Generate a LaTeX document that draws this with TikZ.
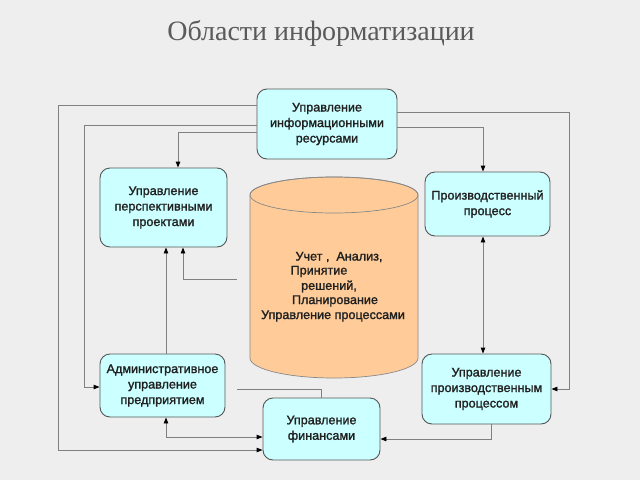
\documentclass[tikz,border=0pt]{standalone}
\usepackage{fontspec}
\setmainfont{Liberation Sans}
\newfontfamily\boxfont{Liberation Sans}[FakeBold=1.5]
\newfontfamily\titlefont{Liberation Serif}
\usetikzlibrary{arrows.meta,calc}
\definecolor{bg}{HTML}{EEEEEE}
\definecolor{boxfill}{HTML}{CCFFFF}
\definecolor{boxline}{HTML}{555555}
\definecolor{dbfill}{HTML}{FFCC99}
\definecolor{dbline}{HTML}{888888}
\definecolor{conncol}{HTML}{808080}
\definecolor{titlecol}{HTML}{5A5A5A}
\definecolor{txt}{HTML}{202020}
\tikzset{
  box/.style={draw=boxline, line width=0.9pt, fill=boxfill, rounded corners=10pt,
    align=center, font=\boxfont\fontsize{12.6}{15.5}\selectfont, text=txt, inner sep=0pt},
  conn/.style={draw=conncol, line width=0.9pt},
  tip/.tip={Triangle[length=6pt,width=4.5pt,color=black]},
  dbtext/.style={font=\boxfont\fontsize{12.6}{15}\selectfont, text=txt, inner sep=0pt},
}
\begin{document}
\begin{tikzpicture}[x=1pt,y=1pt]
\fill[bg] (0,0) rectangle (640,-480);
\useasboundingbox (0,0) rectangle (640,-480);

\node[font=\titlefont\fontsize{28}{31}\selectfont, text=titlecol] (title) at (321,-33) {Области информатизации};

% cylinder
\node[minimum width=168pt, minimum height=163pt, inner sep=0pt] (db) at (334,-276.5) {};
\filldraw[fill=dbfill, draw=dbline, line width=0.7pt]
  (250,-195) -- (250,-358) arc[start angle=180, end angle=360, x radius=84, y radius=20]
  -- (418,-195) arc[start angle=0, end angle=180, x radius=84, y radius=18] -- cycle;
\draw[dbline, line width=0.7pt] (334,-195) ellipse [x radius=84, y radius=18];
\node[dbtext] (c1) at (339,-257) {Учет ,\ \ Анализ,};
\node[dbtext] (c2) at (319,-271.5) {Принятие};
\node[dbtext] (c3) at (329,-286.5) {решений,};
\node[dbtext] (c4) at (335,-301) {Планирование};
\node[dbtext] (c5) at (333,-316) {Управление процессами};

% boxes
\node[box, minimum width=140pt, minimum height=70pt] (info) at (327,-124) {Управление\\информационными\\ресурсами};
\node[box, minimum width=127pt, minimum height=79pt] (persp) at (163.5,-207.5) {Управление\\перспективными\\проектами};
\node[box, minimum width=125pt, minimum height=64pt] (prodproc) at (487.5,-204) {Производственный\\процесс};
\node[box, minimum width=125pt, minimum height=63pt] (admin) at (162.5,-385.5) {Административное\\управление\\предприятием};
\node[box, minimum width=129pt, minimum height=70pt] (prodmgmt) at (486.5,-389) {Управление\\производственным\\процессом};
\node[box, minimum width=117pt, minimum height=62pt] (fin) at (321.5,-429) {Управление\\финансами};

% connectors
\draw[conn,-tip] ([yshift=19pt]info.west) -- (58,-105) -- (58,-450) -- ([yshift=-21pt]fin.west);
\draw[conn,-tip] ([yshift=-1pt]info.west) -- (84,-125) -- (84,-387) -- ([yshift=-1.5pt]admin.west);
\draw[conn,-tip] ([yshift=-8pt]info.west) -| ([xshift=14.5pt]persp.north);
\draw[conn,-tip] ([yshift=-3pt]info.east) -| ([xshift=-4.5pt]prodproc.north);
\draw[conn,-tip] ([yshift=12pt]info.east) -- (569,-112) |- (prodmgmt.east);
\draw[conn,tip-tip] ([xshift=-4.5pt]prodproc.south) -- ([xshift=-3.5pt]prodmgmt.north);
\draw[conn,-tip] ([xshift=4.5pt]prodmgmt.south) |- ([yshift=-10pt]fin.east);
\draw[conn,-tip] ([xshift=3.5pt]admin.north) -- ([xshift=2.5pt]persp.south);
\draw[conn,-tip] ([xshift=-13pt,yshift=-2.5pt]db.west) -| ([xshift=19.5pt]persp.south);
\draw[conn,tip-tip] ([xshift=3.5pt]admin.south) |- ([yshift=-8pt]fin.west);
\draw[conn] ([xshift=12pt,yshift=-3.5pt]admin.east) -| (fin.north);
\end{tikzpicture}
\end{document}
